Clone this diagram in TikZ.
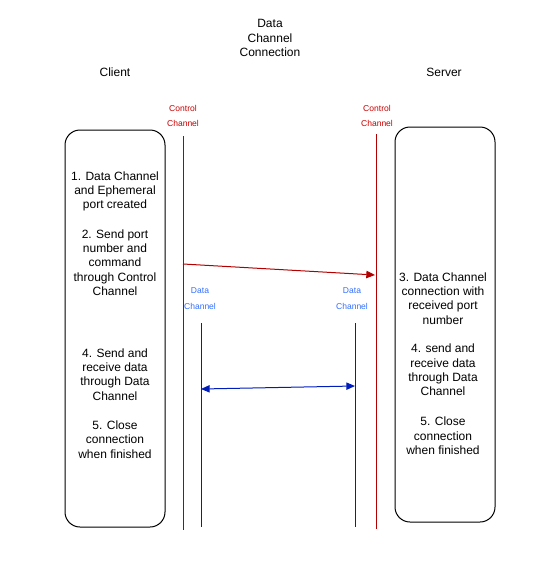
\documentclass[tikz,border=0pt]{standalone}
\usepackage{fontspec}
\setmainfont{Liberation Sans}
\usetikzlibrary{arrows.meta}
\definecolor{ctrlred}{RGB}{178,0,0}
\definecolor{ctrltext}{RGB}{204,0,0}
\definecolor{datablue}{RGB}{0,29,188}
\definecolor{datatext}{RGB}{51,110,255}
\tikzset{
  box/.style={draw=black, line width=0.75pt, rounded corners=11.25pt},
  txt/.style={align=center, font=\fontsize{9}{10.75}\selectfont, inner sep=0pt},
  small/.style={align=center, font=\fontsize{6.4}{11.6}\selectfont, inner sep=0pt},
  redline/.style={draw=ctrlred, line width=0.75pt},
  blueline/.style={draw=datablue, line width=0.75pt},
}
\begin{document}
\begin{tikzpicture}[x=0.75pt,y=-0.75pt]
\useasboundingbox (0,0) rectangle (539,586);
% boxes
\draw[box] (65,130) rectangle (165,527);
\draw[box] (395,127) rectangle (495,522);
% titles
\node[txt] (title) at (270,38) {Data\\Channel\\Connection};
\node[txt] (client) at (115,72) {Client};
\node[txt] (server) at (444,72) {Server};
% channel labels
\node[small, text=ctrltext] (cl) at (183,116) {Control\\Channel};
\node[small, text=ctrltext] (cr) at (377,116) {Control\\Channel};
\node[small, text=datatext] (dl) at (200,298.5) {Data\\Channel};
\node[small, text=datatext] (dr) at (352,298.5) {Data\\Channel};
% lines
\coordinate (clt) at (183,136); \coordinate (clb) at (183,530);
\coordinate (crt) at (376,134); \coordinate (crb) at (376,529);
\coordinate (dlt) at (201,323); \coordinate (dlb) at (201,527);
\coordinate (drt) at (355,323); \coordinate (drb) at (355,527);
\draw[redline] (clt) -- (clb);
\draw[redline] (crt) -- (crb);
\draw[blueline] (dlt) -- (dlb);
\draw[blueline] (drt) -- (drb);
% arrows
\coordinate (ra) at (183,264); \coordinate (rb) at (375,275);
\draw[redline, -{Triangle[length=6.5pt,width=5.5pt]}] (ra) -- (rb);
\coordinate (ba) at (201,389); \coordinate (bb) at (355,386);
\draw[blueline, {Triangle[length=6.5pt,width=5.5pt]}-{Triangle[length=6.5pt,width=5.5pt]}] (ba) -- (bb);
% left texts
\node[txt] (s1) at (115,191.5) {1. Data Channel\\and Ephemeral\\port created};
\node[txt] (s2) at (115,262.5) {2. Send port\\number and\\command\\through Control\\Channel};
\node[txt] (s4l) at (115,374.5) {4. Send and\\receive data\\through Data\\Channel};
\node[txt] (s5l) at (115,439.5) {5. Close\\connection\\when finished};
% right texts
\node[txt] (s3) at (443,298.5) {3. Data Channel\\connection with\\received port\\number};
\node[txt] (s4r) at (443,370) {4. send and\\receive data\\through Data\\Channel};
\node[txt] (s5r) at (443,436) {5. Close\\connection\\when finished};
\end{tikzpicture}
\end{document}
